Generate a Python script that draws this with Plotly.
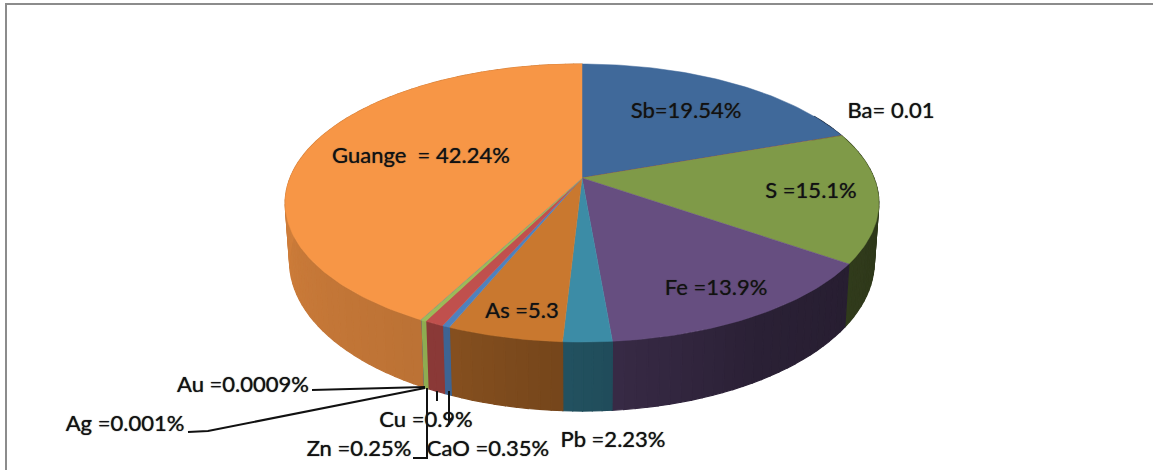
import math
import plotly.graph_objects as go

categories = ["Sb", "Ba", "S", "Fe", "Pb", "As", "CaO", "Cu", "Zn", "Ag", "Au", "Guange"]
values = [19.54, 0.01, 15.1, 13.9, 2.23, 5.3, 0.35, 0.9, 0.25, 0.001, 0.0009, 42.24]
colors = ["#40699A", "#A5403E", "#7F9A48", "#664E80", "#3C8CA6", "#C9782F",
          "#4F81BD", "#C0504D", "#9BBB59", "#8064A2", "#4BACC6", "#F79646"]
label_texts = ["Sb=19.54%", "Ba= 0.01", "S =15.1%", "Fe =13.9%", "Pb =2.23%", "As =5.3",
               "CaO =0.35%", "Cu =0.9%", "Zn =0.25%", "Ag =0.001%", "Au =0.0009%", "Guange  = 42.24%"]
label_x = [686, 891, 811, 716, 613, 522, 488, 426, 359, 125, 243, 421]
label_y = [112, 112, 192, 289, 441, 312, 450, 421, 450, 425, 386, 157]

# projection of the tilted disc
CX, CY, A, B, P, D = 582, 178, 292, 134.5, 0.18, 56.6
shade_angle = [0, 100, 120, 150, 178, 205, 207, 250, 272, 300, 360]
shade_value = [0.36, 0.36, 0.38, 0.42, 0.56, 0.68, 0.76, 0.82, 0.85, 0.85, 0.85]
wall_override = {"CaO": 0.78, "Cu": 0.72, "Zn": 0.92}


def top(theta):
    t = math.radians(theta)
    u, w = math.sin(t), -math.cos(t)
    den = 1 - P * w
    return CX + A * u / den, CY + B * w / den


def bottom(theta):
    t = math.radians(theta)
    u, w = math.sin(t), -math.cos(t)
    den = 1 - P * w
    return CX + 0.985 * A * u / den, CY + B * w / den + D / den


def shade(hex_color, theta, override=None):
    theta %= 360
    s = override
    if s is None:
        for i in range(len(shade_angle) - 1):
            if shade_angle[i] <= theta <= shade_angle[i + 1]:
                f = (theta - shade_angle[i]) / (shade_angle[i + 1] - shade_angle[i])
                s = shade_value[i] + f * (shade_value[i + 1] - shade_value[i])
                break
    r, g, b = (int(hex_color[k:k + 2], 16) for k in (1, 3, 5))
    return f"rgb({int(r * s)},{int(g * s)},{int(b * s)})"


def frange(a, b, step):
    n = max(1, math.ceil((b - a) / step))
    return [a + (b - a) * i / n for i in range(n + 1)]


fig = go.Figure()
total = sum(values)

start = 0.0
spans = []
for name, val, col in zip(categories, values, colors):
    end = start + val / total * 360
    spans.append((name, start, end, col))
    start = end

# side wall
for name, a0, a1, col in spans:
    if a1 < 60:
        continue
    pts = frange(max(a0, 60), a1, 2)
    over = wall_override.get(name)
    width = 1.8 if name == "Zn" else 1.2
    for t0, t1 in zip(pts[:-1], pts[1:]):
        poly = [top(t0), top(t1), bottom(t1), bottom(t0), top(t0)]
        c = shade(col, (t0 + t1) / 2, over)
        fig.add_trace(go.Scatter(x=[p[0] for p in poly], y=[p[1] for p in poly], mode="lines",
                                 fill="toself", fillcolor=c, line=dict(color=c, width=width),
                                 hoverinfo="skip", showlegend=False))

# top face
for name, a0, a1, col in spans:
    poly = [(CX, CY)] + [top(t) for t in frange(a0, a1, 1)] + [(CX, CY)]
    width = 1.2 if name == "Zn" else 0.5
    fig.add_trace(go.Scatter(x=[p[0] for p in poly], y=[p[1] for p in poly], mode="lines",
                             fill="toself", fillcolor=col, line=dict(color=col, width=width),
                             name=name, hoverinfo="skip", showlegend=False))

# leader lines
leaders = [
    ([312, 425], [390, 387]),
    ([188, 208, 425], [432, 431, 388]),
    ([413, 427, 427], [458, 458, 388]),
    ([437, 437], [391, 401]),
    ([449, 449], [391, 425]),
]
for lx, ly in leaders:
    fig.add_trace(go.Scatter(x=lx, y=ly, mode="lines", line=dict(color="#111111", width=2),
                             hoverinfo="skip", showlegend=False))

# labels
fig.add_trace(go.Scatter(x=label_x, y=label_y, mode="text", text=label_texts,
                         textposition="middle center",
                         textfont=dict(family="Lato", size=22, color="#111111",
                                       shadow="0 0 1px #333333"),
                         hoverinfo="skip", showlegend=False))

# frame
fig.add_trace(go.Scatter(x=[6, 6, 1153], y=[470, 4, 4], mode="lines",
                         line=dict(color="#8C8C8C", width=2), hoverinfo="skip", showlegend=False))

fig.update_layout(width=1153, height=470, margin=dict(l=0, r=0, t=0, b=0),
                  paper_bgcolor="white", plot_bgcolor="white",
                  xaxis=dict(range=[0, 1153], visible=False, fixedrange=True),
                  yaxis=dict(range=[470, 0], visible=False, fixedrange=True))
fig.write_html("out.html", config={"displayModeBar": False},
               post_script="document.body.style.margin='0';")
